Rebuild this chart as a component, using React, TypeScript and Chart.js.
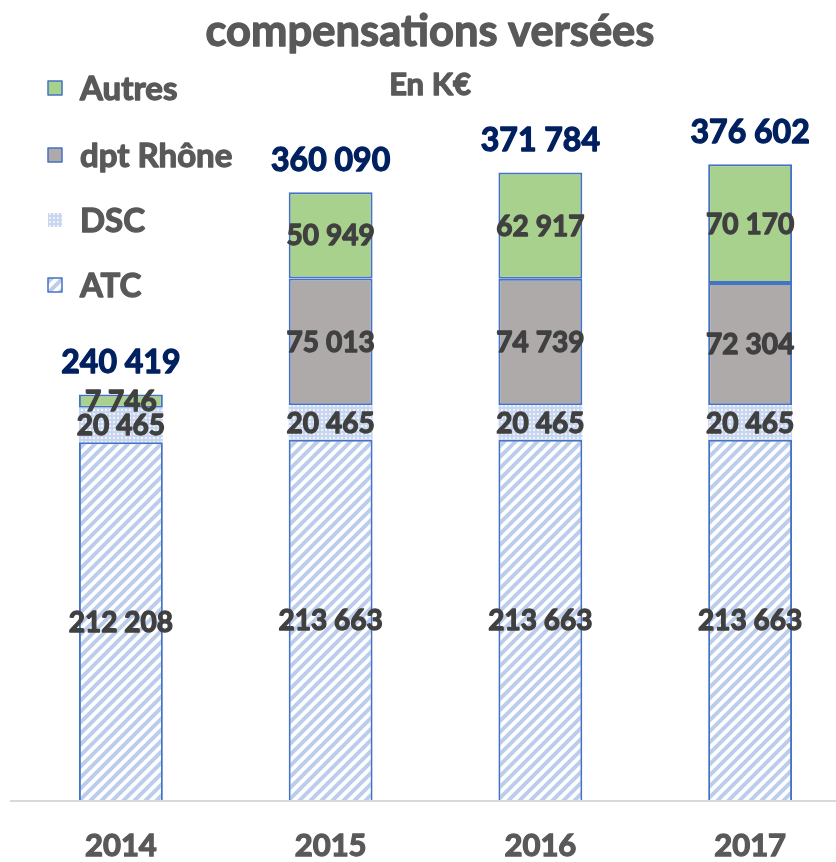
import React, { useEffect, useRef } from "react";
import { Chart, registerables } from "chart.js";

Chart.register(...registerables);

const categories = ["2014", "2015", "2016", "2017"];
const atc = [212208, 213663, 213663, 213663];
const dsc = [20465, 20465, 20465, 20465];
const rhone = [0, 75013, 74739, 72304];
const autres = [7746, 50949, 62917, 70170];
const seriesNames = ["ATC", "DSC", "dpt Rhône", "Autres"];

const FONT = "Lato, 'Open Sans', sans-serif";
const W = "bold";
const SW = 1.3;
const BLUE = "#4472C4";

function fmt(v: number): string {
  return Math.round(v).toString().replace(/\B(?=(\d{3})+(?!\d))/g, " ");
}

function makeHatch(): CanvasPattern | string {
  const c = document.createElement("canvas");
  const s = 11;
  c.width = s;
  c.height = s;
  const g = c.getContext("2d");
  if (!g) return "#c5d5ee";
  g.fillStyle = "#ffffff";
  g.fillRect(0, 0, s, s);
  g.strokeStyle = "#bccdeb";
  g.lineWidth = 4;
  g.beginPath();
  g.moveTo(-2, s + 2);
  g.lineTo(s + 2, -2);
  g.moveTo(-2 - s, s + 2);
  g.lineTo(2, -2);
  g.moveTo(-2 + s, s + 2 + 0);
  g.lineTo(s + 2 + s, -2);
  g.stroke();
  const p = g.createPattern(c, "repeat");
  return p || "#c5d5ee";
}

function makeDots(): CanvasPattern | string {
  const c = document.createElement("canvas");
  const s = 4;
  c.width = s;
  c.height = s;
  const g = c.getContext("2d");
  if (!g) return "#d6e0f2";
  g.fillStyle = "#c8d6ef";
  g.fillRect(0, 0, s, s);
  g.fillStyle = "#eef2fa";
  g.fillRect(1, 1, 2, 2);
  const p = g.createPattern(c, "repeat");
  return p || "#d6e0f2";
}

function boldText(ctx: CanvasRenderingContext2D, t: string, x: number, y: number, color: string) {
  ctx.fillStyle = color;
  ctx.strokeStyle = color;
  ctx.lineWidth = SW;
  ctx.lineJoin = "round";
  ctx.fillText(t, x, y);
  ctx.strokeText(t, x, y);
}

export default function App() {
  const ref = useRef<HTMLCanvasElement | null>(null);

  useEffect(() => {
    document.body.style.margin = "0";
    const canvas = ref.current;
    if (!canvas) return;
    const hatch = makeHatch();
    const dots = makeDots();

    const overlay = {
      id: "overlay",
      afterDatasetsDraw(chart: any) {
        const ctx = chart.ctx;
        ctx.save();
        // axis line
        const bottom = chart.chartArea.bottom;
        ctx.strokeStyle = "#d9d9d9";
        ctx.lineWidth = 2;
        ctx.beginPath();
        ctx.moveTo(10, bottom);
        ctx.lineTo(chart.width, bottom);
        ctx.stroke();

        // segment labels
        ctx.textAlign = "center";
        ctx.textBaseline = "middle";
        ctx.font = `${W} 28px ${FONT}`;
        chart.data.datasets.forEach((ds: any, di: number) => {
          const meta = chart.getDatasetMeta(di);
          meta.data.forEach((el: any, i: number) => {
            const v = ds.data[i];
            if (!v) return;
            const y = (el.y + el.base) / 2;
            boldText(ctx, fmt(v), el.x, y + 1, "#404040");
          });
        });

        // totals
        ctx.font = `${W} 32px ${FONT}`;
        const lastMeta = chart.getDatasetMeta(chart.data.datasets.length - 1);
        categories.forEach((_c, i) => {
          const total = atc[i] + dsc[i] + rhone[i] + autres[i];
          const el = lastMeta.data[i];
          boldText(ctx, fmt(total), el.x, el.y - 32, "#002060");
        });

        // title
        ctx.font = `${W} 43.5px ${FONT}`;
        boldText(ctx, "compensations versées", 430, 32, "#595959");
        ctx.font = `${W} 31px ${FONT}`;
        boldText(ctx, "En K€", 430, 85, "#595959");

        // legend
        const items = [
          { name: seriesNames[3], fill: "#A9D18E", border: true, y: 88 },
          { name: seriesNames[2], fill: "#AEAAAA", border: true, y: 155 },
          { name: seriesNames[1], fill: dots, border: false, y: 220 },
          { name: seriesNames[0], fill: hatch, border: true, y: 285 },
        ];
        ctx.textAlign = "left";
        ctx.font = `${W} 33px ${FONT}`;
        items.forEach((it) => {
          ctx.fillStyle = it.fill as any;
          ctx.fillRect(48, it.y - 7, 14, 14);
          if (it.border) {
            ctx.strokeStyle = BLUE;
            ctx.lineWidth = 1.5;
            ctx.strokeRect(48, it.y - 7, 14, 14);
          }
          boldText(ctx, it.name, 80, it.y + 1, "#595959");
        });
        ctx.restore();
      },
    };

    const chart = new Chart(canvas, {
      type: "bar",
      data: {
        labels: categories,
        datasets: [
          {
            label: seriesNames[0],
            data: atc,
            backgroundColor: hatch as any,
            borderColor: BLUE,
            borderWidth: 2,
            borderSkipped: "start",
          },
          {
            label: seriesNames[1],
            data: dsc,
            backgroundColor: dots as any,
            borderWidth: 0,
          },
          {
            label: seriesNames[2],
            data: rhone,
            backgroundColor: "#AEAAAA",
            borderColor: BLUE,
            borderWidth: 2,
            borderSkipped: false,
          },
          {
            label: seriesNames[3],
            data: autres,
            backgroundColor: "#A9D18E",
            borderColor: BLUE,
            borderWidth: 2,
            borderSkipped: false,
          },
        ],
      },
      options: {
        animation: false,
        responsive: false,
        devicePixelRatio: 1,
        layout: { padding: { left: 16, right: 5, top: 91, bottom: 0 } },
        datasets: {
          bar: { categoryPercentage: 1, barPercentage: 0.4 },
        },
        plugins: {
          legend: { display: false },
          title: { display: false },
          tooltip: { enabled: false },
        },
        scales: {
          x: {
            stacked: true,
            grid: { display: false, drawTicks: false },
            border: { display: false },
            ticks: {
              padding: 26,
              color: "#595959",
              textStrokeColor: "#595959",
              textStrokeWidth: SW,
              font: { family: FONT, size: 31, weight: W as any },
            },
            afterFit: (scale: any) => {
              scale.height = 61;
            },
          },
          y: {
            stacked: true,
            display: false,
            min: 0,
            max: 420000,
          },
        },
      },
      plugins: [overlay],
    });
    return () => chart.destroy();
  }, []);

  return (
    <div
      style={{
        position: "absolute",
        left: 0,
        top: 0,
        width: 836,
        height: 862,
        overflow: "hidden",
        background: "#ffffff",
      }}
    >
      <canvas ref={ref} width={860} height={862} style={{ width: 860, height: 862, display: "block" }} />
    </div>
  );
}
